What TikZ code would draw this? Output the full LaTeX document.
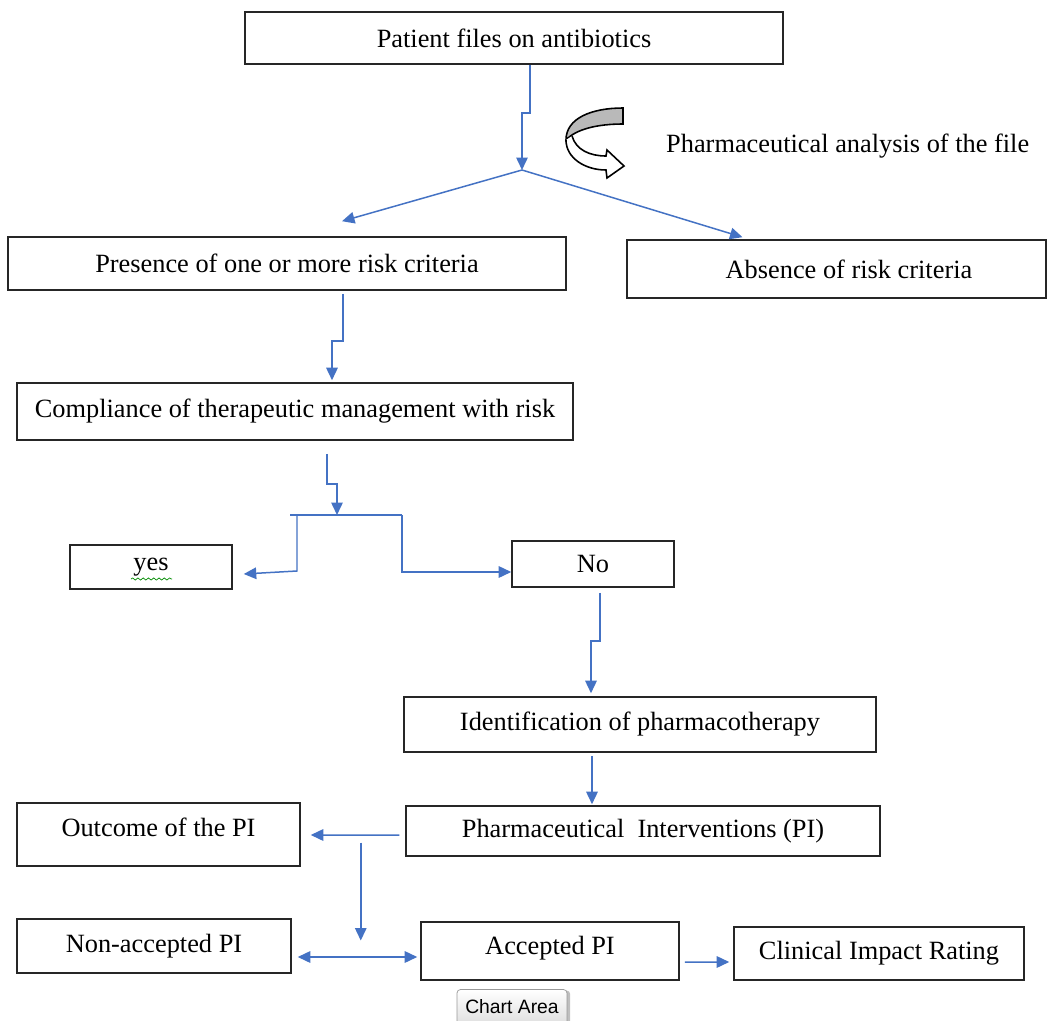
\documentclass[tikz,border=0pt]{standalone}
\usepackage{fontspec}
\setmainfont{Liberation Serif}
\setsansfont{Liberation Sans}
\usepackage{tikz}
\usetikzlibrary{arrows.meta,calc,decorations.pathmorphing,shadows}
\definecolor{flowblue}{RGB}{68,114,196}

\begin{document}
\begin{tikzpicture}[x=0.02cm, y=-0.02cm, every node/.style={font=\fontsize{15}{18}\selectfont}, >={Triangle[length=2.5mm, width=2.3mm]}, box/.style={draw=black!85, line width=0.9pt, inner sep=2pt}, flow/.style={draw=flowblue, line width=0.85pt}]
	\clip (0,0) rectangle (1056,1021);
	\fill[white] (0,0) rectangle (1056,1021);
	% boxes
	\node[box, minimum width=10.76cm, minimum height=1.04cm] (patient) at (514,38) {Patient files on antibiotics};
	\node[box, minimum width=11.16cm, minimum height=1.06cm] (presence) at (287,263.5) {Presence of one or more risk criteria};
	\node[box, minimum width=8.38cm, minimum height=1.16cm] (absence) at (836.5,269) {\hspace*{0.5cm}Absence of risk criteria};
	\node[box, minimum width=11.12cm, minimum height=1.14cm] (compliance) at (295,411.5) {\raisebox{4pt}{Compliance of therapeutic management with risk}};
	\node[box, minimum width=3.24cm, minimum height=0.88cm] (yes) at (151,567) {yes};
	\node[box, minimum width=3.24cm, minimum height=0.92cm] (no) at (593,564) {No};
	\node[box, minimum width=9.44cm, minimum height=1.10cm] (ident) at (640,724.5) {Identification of pharmacotherapy};
	\node[box, minimum width=9.48cm, minimum height=1.00cm] (pi) at (643,831) {Pharmaceutical\ \ Interventions (PI)};
	\node[box, minimum width=5.66cm, minimum height=1.26cm] (outcome) at (158.5,834.5) {\raisebox{8pt}{Outcome of the PI}};
	\node[box, minimum width=5.48cm, minimum height=1.08cm] (nonacc) at (154,946) {\raisebox{3pt}{Non-accepted PI}};
	\node[box, minimum width=5.16cm, minimum height=1.16cm] (acc) at (550,951) {\raisebox{6pt}{Accepted PI}};
	\node[box, minimum width=5.80cm, minimum height=1.06cm] (impact) at (879,953.5) {Clinical\ Impact Rating};
	\node[anchor=west] (analysis) at (660,146) {Pharmaceutical analysis of the file};
	% spell-check mark under yes
	\draw[green!55!black, line width=0.4pt, decorate, decoration={snake, segment length=3pt, amplitude=0.6pt}] ($(yes.center)+(-20,12)$) -- ($(yes.center)+(21,12)$);
	% curled arrow
	\filldraw[fill=gray!55, draw=black, line width=0.9pt] (623,108) .. controls (592,108) and (566,118) .. (566,140) .. controls (576,129) and (598,124) .. (623,124) -- cycle;
	\filldraw[fill=white, draw=black, line width=0.9pt] (566,140) .. controls (566,158) and (585,170) .. (606,170) -- (607,178) -- (624,166) -- (607,150) -- (606,156) .. controls (590,156) and (576,150) .. (572,136);
	% connectors
	\coordinate (split) at (522,170);
	\draw[flow, ->] ($(patient.south)+(16,0)$) -- ++(0,48) -- ++(-8,0) -- (split);
	\draw[flow, ->] (split) -- ($(presence.north)+(55,-15)$);
	\draw[flow, ->] (split) -- ($(absence.north)+(-94,-2)$);
	\draw[flow, ->] ($(presence.south)+(56,3)$) -- ++(0,47) -- ++(-11,0) -- ($(compliance.north)+(37,-2)$);
	\coordinate (fork) at (337,515);
	\draw[flow, ->] ($(compliance.south)+(32,13)$) -- ++(0,30) -- ++(10,0) -- (fork);
	\draw[flow] (290,515) -- (402,515);
	\draw[flow, ->] (297,515) -- (297,571) -- ($(yes.east)+(11,7)$);
	\draw[flow, ->] (402,515) |- ($(no.west)+(0,8)$);
	\draw[flow, ->] ($(no.south)+(7,5)$) -- ++(0,48) -- ++(-9,0) -- ($(ident.north)+(-49,-3)$);
	\draw[flow, ->] ($(ident.south)+(-48,3)$) -- ($(pi.north)+(-51,-1)$);
	\draw[flow, ->] ($(pi.west)+(-6,4)$) -- ($(outcome.east)+(10,0.5)$);
	\draw[flow, ->] ($(outcome.east)+(60,8)$) -- ++(0,98);
	\draw[flow, <->] ($(nonacc.east)+(6,11)$) -- ($(acc.west)+(-3,6)$);
	\draw[flow, ->] ($(acc.east)+(5,11)$) -- ($(impact.west)+(-4,8.5)$);
	% word's chart button
	\node[draw=gray!80, rounded corners=2pt, top color=white, bottom color=gray!25, drop shadow={shadow xshift=1.8pt, shadow yshift=-0.6pt, opacity=0.5}, font=\sffamily\fontsize{11}{13}\selectfont, minimum width=2.2cm, minimum height=0.7cm] (chart) at (512,1007) {Chart Area};
\end{tikzpicture}
\end{document}
